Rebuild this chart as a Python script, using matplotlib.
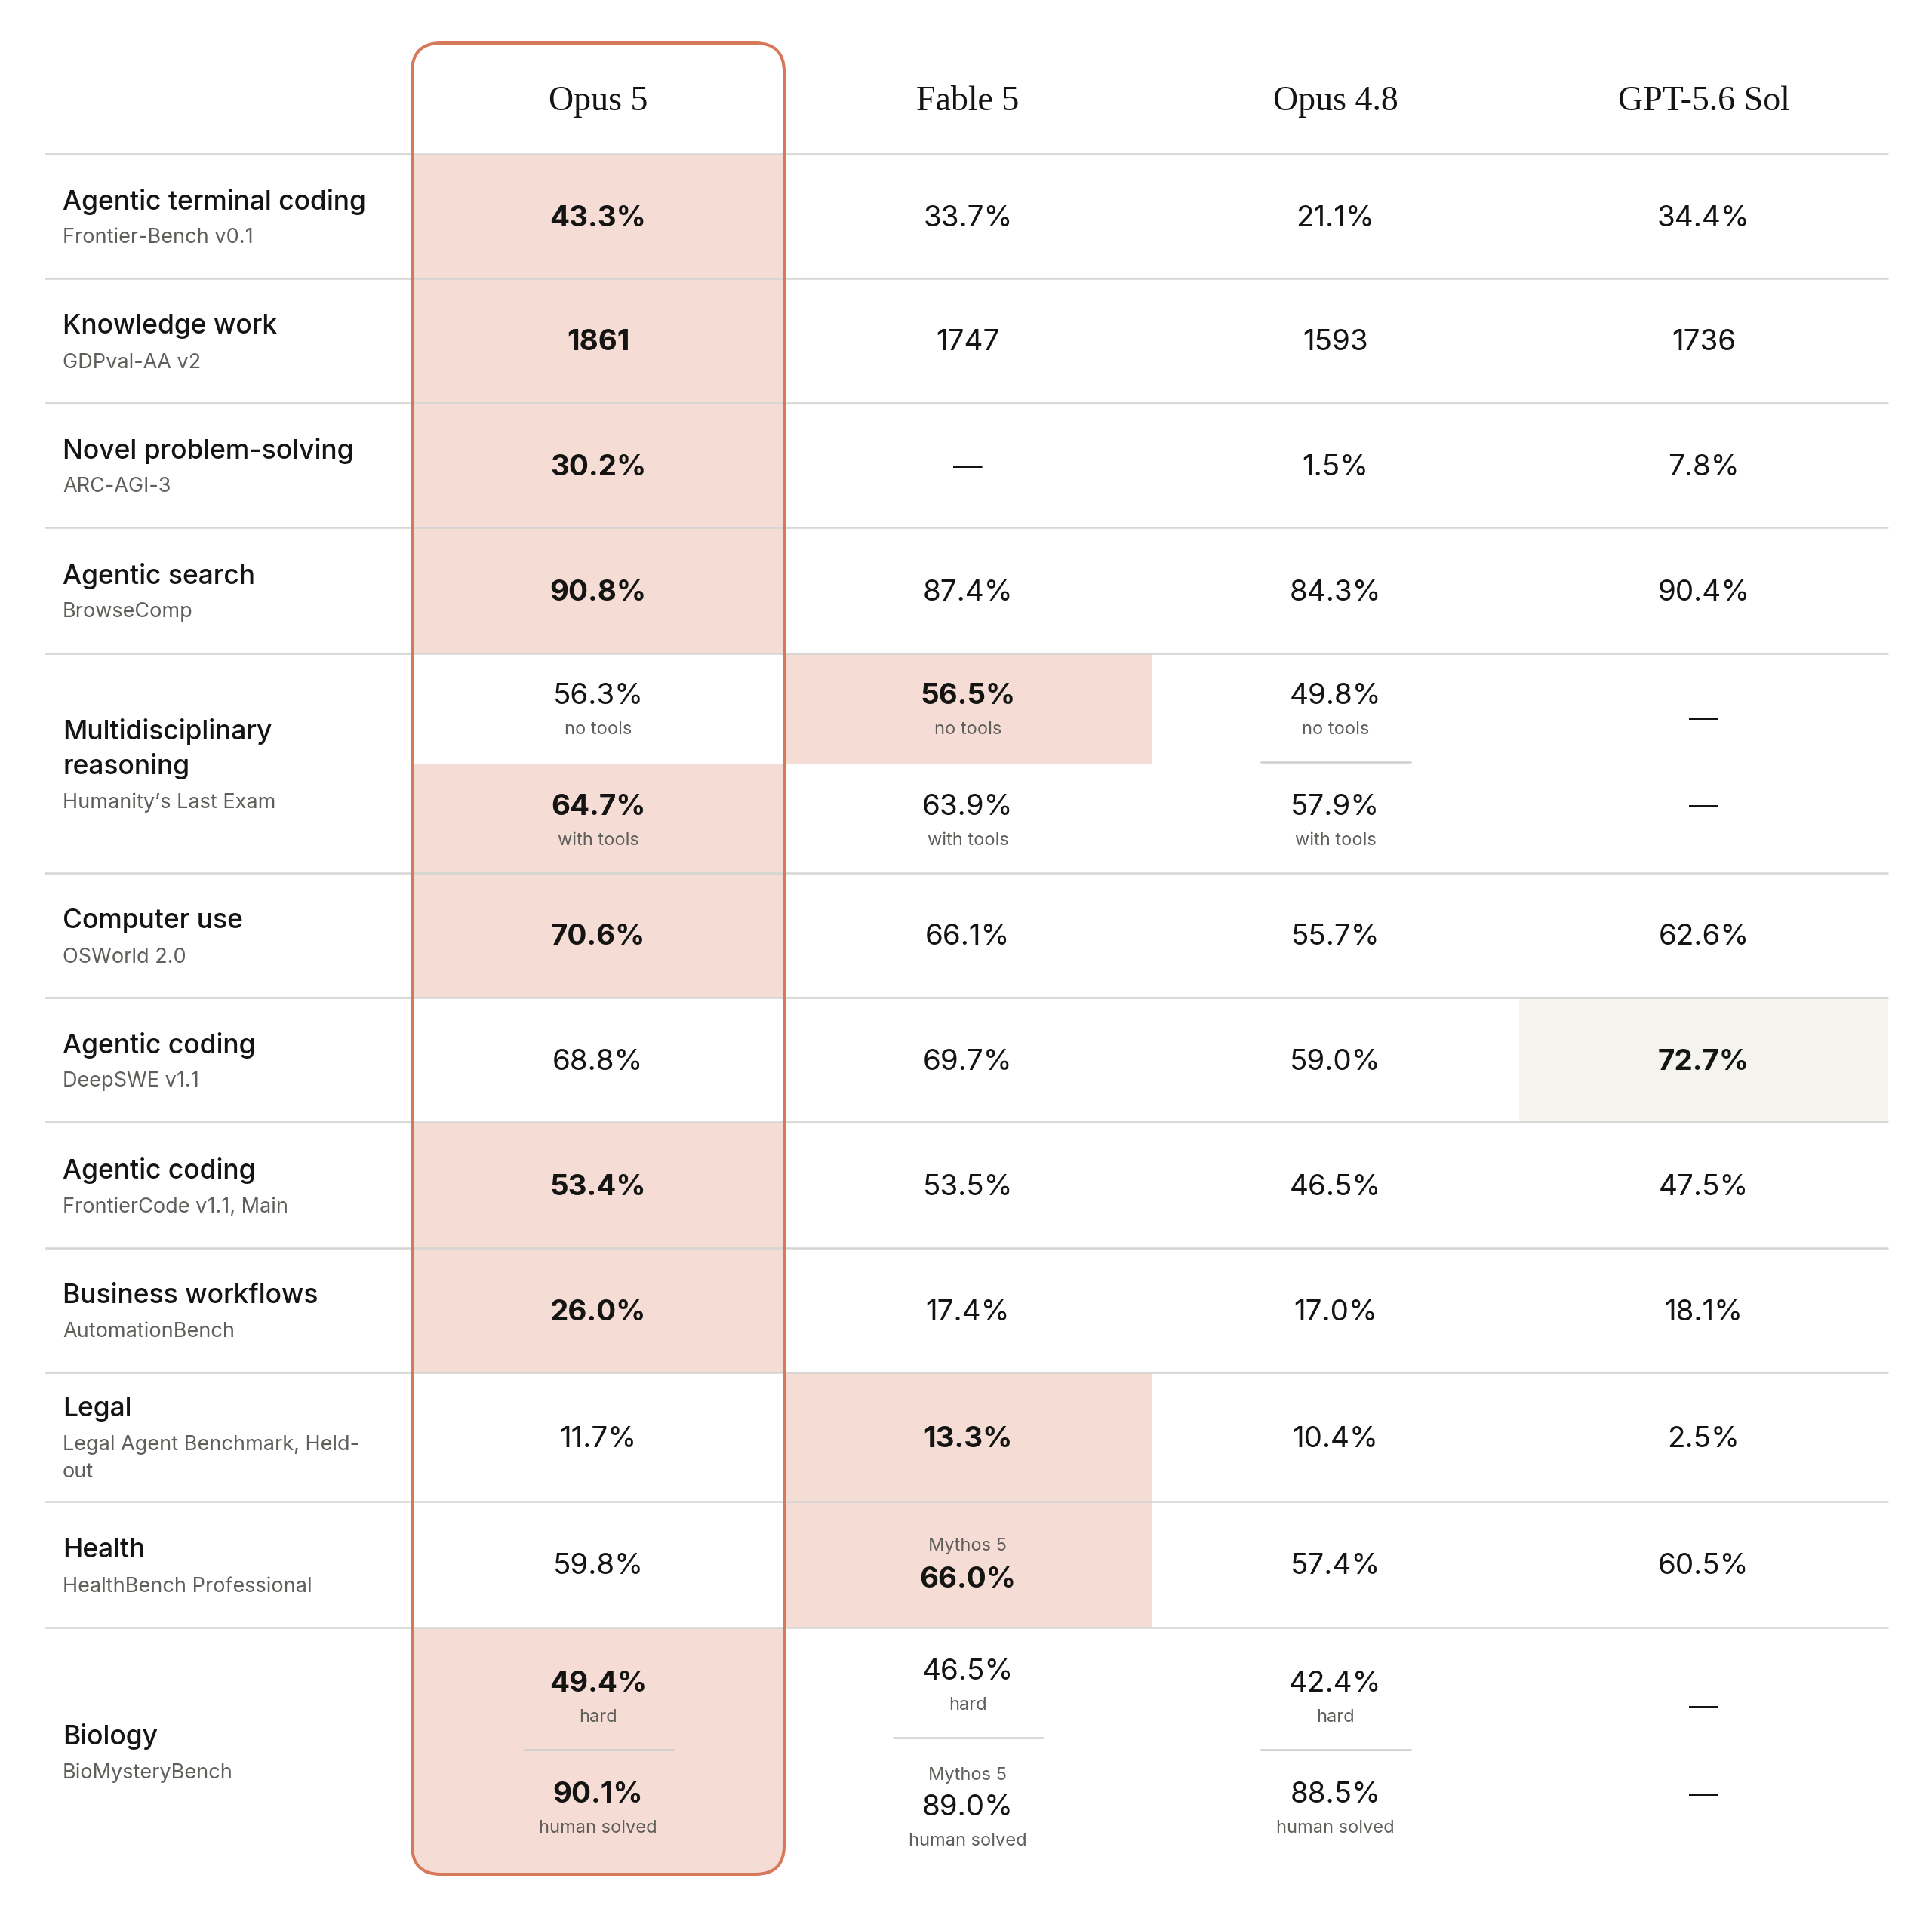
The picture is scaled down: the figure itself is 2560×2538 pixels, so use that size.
import matplotlib
matplotlib.use("Agg")
import matplotlib.pyplot as plt
from matplotlib.patches import FancyBboxPatch, Rectangle

# ---- data ----
models = ["Opus 5", "Fable 5", "Opus 4.8", "GPT-5.6 Sol"]

task_titles = ["Agentic terminal coding", "Knowledge work", "Novel problem-solving",
               "Agentic search", "Multidisciplinary\nreasoning", "Computer use",
               "Agentic coding", "Agentic coding", "Business workflows", "Legal",
               "Health", "Biology"]
benchmarks = ["Frontier-Bench v0.1", "GDPval-AA v2", "ARC-AGI-3", "BrowseComp",
              "Humanity\u2019s Last Exam", "OSWorld 2.0", "DeepSWE v1.1",
              "FrontierCode v1.1, Main", "AutomationBench",
              "Legal Agent Benchmark, Held-\nout", "HealthBench Professional",
              "BioMysteryBench"]

# split rows hold (top, bottom) values
opus5 = ["43.3%", "1861", "30.2%", "90.8%", ("56.3%", "64.7%"), "70.6%", "68.8%",
         "53.4%", "26.0%", "11.7%", "59.8%", ("49.4%", "90.1%")]
fable5 = ["33.7%", "1747", "\u2014", "87.4%", ("56.5%", "63.9%"), "66.1%", "69.7%",
          "53.5%", "17.4%", "13.3%", "66.0%", ("46.5%", "89.0%")]
opus48 = ["21.1%", "1593", "1.5%", "84.3%", ("49.8%", "57.9%"), "55.7%", "59.0%",
          "46.5%", "17.0%", "10.4%", "57.4%", ("42.4%", "88.5%")]
gpt56 = ["34.4%", "1736", "7.8%", "90.4%", ("\u2014", "\u2014"), "62.6%", "72.7%",
         "47.5%", "18.1%", "2.5%", "60.5%", ("\u2014", "\u2014")]
values = [opus5, fable5, opus48, gpt56]

split_labels = {4: ("no tools", "with tools"), 11: ("hard", "human solved")}

# best result per cell: (model, row, part)  part None = whole cell
best_cells = [(0, 0, None), (0, 1, None), (0, 2, None), (0, 3, None), (0, 4, 1),
              (0, 5, None), (0, 7, None), (0, 8, None), (0, 11, 0), (0, 11, 1),
              (1, 4, 0), (1, 9, None), (1, 10, None), (3, 6, None)]
# small notes above a value
notes = {(1, 10, None): "Mythos 5", (1, 11, 1): "Mythos 5"}

# ---- style / layout ----
PINK = "#f5ddd5"
BEIGE = "#f4f3ee"
CLAY = "#d6795a"
INK = "#141413"
GREY = "#5f5e5a"
RULE = "#d5d5d3"
best_fill = [PINK, PINK, PINK, BEIGE]

SANS = ["Inter", "DejaVu Sans"]
SERIF = ["Liberation Serif", "DejaVu Serif"]

W, H = 2560, 2538
table_left, table_right = 59, 2502
label_x = 83
col_edges = [546, 1039, 1526, 2013, 2502]
header_top, header_bottom = 57, 204
row_heights = [165, 165, 165, 167, 291, 165, 165, 167, 165, 171, 167, 327]

fig = plt.figure(figsize=(W / 100, H / 100), dpi=100)
ax = fig.add_axes([0, 0, 1, 1])
ax.set_xlim(0, W)
ax.set_ylim(H, 0)
ax.axis("off")

row_tops = [header_bottom]
for h in row_heights:
    row_tops.append(row_tops[-1] + h)

# highlight box around first model
box_kw = dict(boxstyle="round,pad=0,rounding_size=38")
box = FancyBboxPatch((col_edges[0], header_top), col_edges[1] - col_edges[0],
                     row_tops[-1] - header_top, facecolor="none", edgecolor=CLAY,
                     linewidth=2.9, zorder=5, **box_kw)
ax.add_patch(box)
clip_box = FancyBboxPatch((col_edges[0], header_top), col_edges[1] - col_edges[0],
                          row_tops[-1] - header_top, facecolor="none",
                          edgecolor="none", **box_kw)
ax.add_patch(clip_box)


def cell_span(r, part):
    top, bot = row_tops[r], row_tops[r + 1]
    if part is None:
        return top, bot
    mid = (top + bot) / 2
    return (top, mid) if part == 0 else (mid, bot)


for m, r, part in best_cells:
    y0, y1 = cell_span(r, part)
    rect = Rectangle((col_edges[m], y0), col_edges[m + 1] - col_edges[m], y1 - y0,
                     facecolor=best_fill[m], edgecolor="none", zorder=1)
    ax.add_patch(rect)
    if m == 0:
        rect.set_clip_path(clip_box)

# horizontal rules
for y in row_tops[:-1]:
    ax.plot([table_left, table_right], [y, y], color=RULE, lw=1.8, zorder=2,
            solid_capstyle="butt")

# header
for m, name in enumerate(models):
    cx = (col_edges[m] + col_edges[m + 1]) / 2
    ax.text(cx, 135, name, ha="center", va="center", fontsize=33,
            family=SERIF, color=INK, zorder=6)

# row labels
for r, (title, bench) in enumerate(zip(task_titles, benchmarks)):
    center = (row_tops[r] + row_tops[r + 1]) / 2
    t_lines = title.split("\n")
    b_lines = bench.split("\n")
    span = (len(t_lines) - 1) * 46 + 48 + (len(b_lines) - 1) * 36
    y = center - span / 2 + 5
    for line in t_lines:
        ax.text(label_x, y, line, ha="left", va="center", fontsize=25.5,
                family=SANS, color=INK, fontweight="medium", zorder=6)
        y += 46
    y += 2
    for line in b_lines:
        ax.text(label_x, y, line, ha="left", va="center", fontsize=19.5,
                family=SANS, color=GREY, zorder=6)
        y += 36


def is_best(m, r, part):
    return (m, r, part) in best_cells


def draw_value(cx, y, text, bold):
    ax.text(cx, y, text, ha="center", va="center", fontsize=27.8, family=SANS,
            color=INK, fontweight="bold" if bold else "normal", zorder=6)


def draw_small(cx, y, text):
    ax.text(cx, y, text, ha="center", va="center", fontsize=17, family=SANS,
            color=GREY, zorder=6)


for m in range(len(models)):
    cx = (col_edges[m] + col_edges[m + 1]) / 2
    for r, val in enumerate(values[m]):
        center = (row_tops[r] + row_tops[r + 1]) / 2
        if isinstance(val, tuple):
            sub = split_labels[r]
            if val[0] == "\u2014":
                draw_value(cx, center - 57, val[0], False)
                draw_value(cx, center + 59, val[1], False)
                continue
            has_note = (m, r, 1) in notes
            # stack: value, label, sep, [note], value, label
            offs = [0, 44, 91]
            if has_note:
                offs += [137, 181, 224]
            else:
                offs += [147, 191]
            top = center + 3 - (offs[0] + offs[-1]) / 2
            draw_value(cx, top + offs[0] + 4, val[0], is_best(m, r, 0))
            draw_small(cx, top + offs[1] + 4, sub[0])
            if is_best(m, r, 0) == is_best(m, r, 1):
                ax.plot([cx - 100, cx + 100], [top + offs[2]] * 2, color="#cfcfcd",
                        lw=1.8, zorder=3, solid_capstyle="butt")
            if has_note:
                draw_small(cx, top + offs[3] + 4, notes[(m, r, 1)])
            draw_value(cx, top + offs[-2] + 4, val[1], is_best(m, r, 1))
            draw_small(cx, top + offs[-1] + 4, sub[1])
        else:
            if (m, r, None) in notes:
                draw_small(cx, center - 24, notes[(m, r, None)])
                draw_value(cx, center + 20, val, is_best(m, r, None))
            else:
                draw_value(cx, center + 3, val, is_best(m, r, None))

fig.savefig("out.png", dpi=100, facecolor="white")
